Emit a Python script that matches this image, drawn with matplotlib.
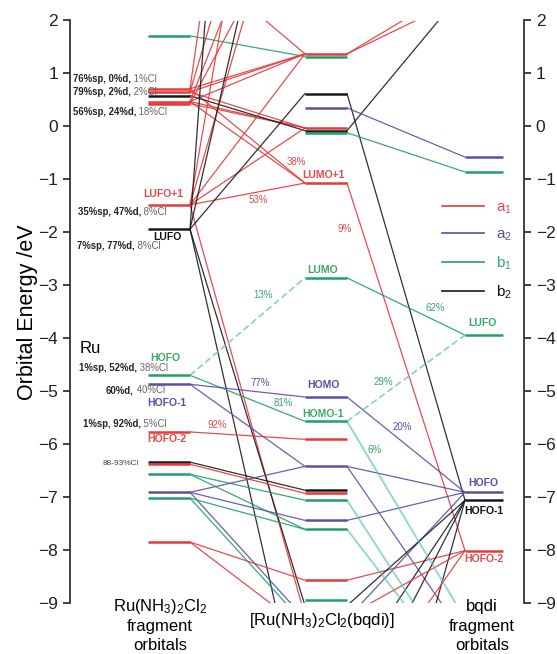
import matplotlib
matplotlib.use('Agg')
import matplotlib.pyplot as plt
from matplotlib.lines import Line2D

plt.rcParams['font.family'] = ['Liberation Sans', 'DejaVu Sans']
plt.rcParams['mathtext.default'] = 'regular'

# --- orbital energies (eV) and symmetry labels ---
# fragment Ru(NH3)2Cl2 levels
left_energy = [1.71, 0.71, 0.65, 0.58, 0.47, 0.43, -1.48, -1.94, -4.70, -4.87,
               -5.77, -6.34, -6.38, -6.57, -6.91, -7.02, -7.85, 3.2]
left_sym = ['b1', 'a1', 'a1', 'b2', 'a1', 'a1', 'a1', 'b2', 'b1', 'a2',
            'a1', 'b2', 'a1', 'b1', 'a2', 'b1', 'a1', 'a1']

# complex levels (some lie outside the plotted window)
center_energy = [1.37, 1.32, 0.62, 0.35, -0.03, -0.08, -0.12, -1.07, -2.86, -5.11,
                 -5.57, -5.91, -6.42, -6.87, -6.93, -7.06, -7.44, -7.61, -8.57, -8.95,
                 4.5, 6.0, 8.0, 11.0, 16.0, 7.5, 28.0, -9.05, -11.5, -9.25,
                 -9.3, -9.4, -9.6, -10.4, -11.4, -15.0, -9.5, -11.2]
center_sym = ['a1', 'b1', 'b2', 'a2', 'a1', 'b2', 'b1', 'a1', 'b1', 'a2',
              'b1', 'a1', 'a2', 'b2', 'a1', 'b1', 'a2', 'b1', 'a1', 'b1',
              'a1', 'a1', 'a1', 'a1', 'a1', 'b2', 'b2', 'b2', 'b2', 'a1',
              'a2', 'b1', 'b1', 'b2', 'b2', 'b2', 'a1', 'a1']

# bqdi fragment levels
right_energy = [-0.58, -0.86, -3.94, -6.91, -7.06, -8.01, 2.45, 2.7, 2.6, -9.3, -10.5, -9.65]
right_sym = ['a2', 'b1', 'b1', 'a2', 'b2', 'a1', 'a1', 'a1', 'b2', 'b1', 'b1', 'a2']

# correlation lines: (fragment level, complex level)
left_links = [(0, 1), (1, 7), (1, 0), (2, 0), (4, 0), (2, 4), (4, 4), (5, 4), (4, 7),
              (3, 5), (1, 24), (2, 22), (4, 21), (5, 20), (17, 0),
              (6, 23), (6, 21), (6, 0), (6, 4), (6, 7), (6, 29),
              (7, 2), (7, 26), (7, 25), (7, 27), (7, 28),
              (8, 10), (9, 9), (9, 12), (10, 11), (11, 13), (12, 14),
              (13, 15), (13, 17), (14, 12), (14, 16), (14, 30), (15, 17),
              (15, 31), (16, 18), (16, 36)]
left_links_minor = [(8, 8)]

right_links = [(0, 6), (0, 7), (5, 8), (2, 4), (3, 0), (6, 1), (7, 5), (8, 2),
               (9, 3), (12, 3), (12, 11), (16, 3), (18, 5), (30, 3),
               (27, 4), (33, 4), (34, 4), (35, 4), (29, 5), (37, 5)]
right_links_minor = [(10, 2)]
right_links_teal = [(10, 9), (15, 10), (17, 10)]

# percentage contributions written on the lines
pct_x = [296, 258, 345, 263, 260, 283, 217, 383, 402, 375, 435]
pct_e = [-0.67, -1.39, -1.94, -3.18, -4.85, -5.22, -5.64, -4.83, -5.68, -6.11, -3.43]
pct_text = ['38%', '53%', '9%', '13%', '77%', '81%', '92%', '29%', '20%', '6%', '62%']
pct_sym = ['a1', 'a1', 'a1', 'b1', 'a2', 'b1', 'a1', 'b1', 'a2', 'b1', 'b1']

# frontier orbital names
name_x = [163, 167, 165, 167, 167, 323, 323, 323, 323, 482, 483, 484, 484]
name_e = [-1.28, -2.09, -4.38, -5.23, -5.91, -0.92, -2.71, -4.88, -5.43, -3.71, -6.74, -7.27, -8.17]
name_text = ['LUFO+1', 'LUFO', 'HOFO', 'HOFO-1', 'HOFO-2', 'LUMO+1', 'LUMO', 'HOMO',
             'HOMO-1', 'LUFO', 'HOFO', 'HOFO-1', 'HOFO-2']
name_sym = ['a1', 'b2', 'b1', 'a2', 'a1', 'a1', 'b1', 'a2', 'b1', 'b1', 'a2', 'b2', 'a1']

# Ru(NH3)2Cl2 fragment compositions
comp_x = [73, 73, 73, 78, 77, 79, 106, 83]
comp_e = [0.90, 0.65, 0.27, -1.61, -2.26, -4.56, -4.98, -5.62]
comp_main = ['76%sp, 0%d,', '79%sp, 2%d,', '56%sp, 24%d,', '35%sp, 47%d,',
             '7%sp, 77%d,', '1%sp, 52%d,', '60%d,', '1%sp, 92%d,']
comp_cl = ['1%Cl', '2%Cl', '18%Cl', '8%Cl', '8%Cl', '38%Cl', '40%Cl', '5%Cl']

COLORS = {'a1': '#e33a3c', 'a2': '#5a4ea6', 'b1': '#22a06a', 'b2': '#1a1a1a'}
TEXT_COLORS = {'a1': '#e34a4a', 'a2': '#5a4ea6', 'b1': '#3aa86a', 'b2': '#111111'}
PALE_TEAL = '#86cfc6'
TEAL = '#4cc0aa'

# column extents along x (pixel-like units)
LX = (148, 190)
CX = (305, 347)
RX = (465, 503)

fig = plt.figure(figsize=(5.57, 6.54), dpi=100)
ax = fig.add_axes([70 / 557, 51 / 654, 454 / 557, 582.5 / 654])
ax.set_xlim(70, 524)
ax.set_ylim(-9, 2)


def link(x0, e0, x1, e1, **kw):
    ax.plot([x0, x1], [e0, e1], **kw)


for i, j in left_links:
    link(LX[1], left_energy[i], CX[0], center_energy[j],
         color=COLORS[left_sym[i]], lw=0.9, alpha=0.9)
for i, j in left_links_minor:
    link(LX[1], left_energy[i], CX[0], center_energy[j],
         color=PALE_TEAL, lw=1.2, ls=(0, (4, 2)))
for i, j in right_links:
    link(CX[1], center_energy[i], RX[0], right_energy[j],
         color=COLORS[right_sym[j]], lw=0.9, alpha=0.9)
for i, j in right_links_minor:
    link(CX[1], center_energy[i], RX[0], right_energy[j],
         color=PALE_TEAL, lw=1.2, ls=(0, (4, 2)))
for i, j in right_links_teal:
    link(CX[1], center_energy[i], RX[0], right_energy[j],
         color=TEAL, lw=1.4, alpha=0.6)

for energies, syms, (x0, x1) in [(left_energy, left_sym, LX),
                                 (center_energy, center_sym, CX),
                                 (right_energy, right_sym, RX)]:
    for e, s in zip(energies, syms):
        ax.plot([x0, x1], [e, e], color=COLORS[s], lw=1.8, solid_capstyle='butt')

for x, e, t, s in zip(pct_x, pct_e, pct_text, pct_sym):
    ax.text(x, e, t, color=TEXT_COLORS[s], fontsize=7, ha='center', va='center')

for x, e, t, s in zip(name_x, name_e, name_text, name_sym):
    ax.text(x, e, t, color=TEXT_COLORS[s], fontsize=7.5, fontweight='bold',
            ha='center', va='center')

for x, e, m, c in zip(comp_x, comp_e, comp_main, comp_cl):
    t = ax.text(x, e, m, color='#222222', fontsize=6.9, fontweight='bold',
                ha='left', va='center')
    ax.annotate(' ' + c, xy=(1, 0.5), xycoords=t, color='#666666', fontsize=6.9,
                ha='left', va='center')
ax.text(103, -6.36, '88-93%Cl', color='#444444', fontsize=6, ha='left', va='center')
ax.text(80, -4.19, 'Ru', fontsize=12, ha='left', va='center')

# symmetry key
handles = [Line2D([], [], color=COLORS[s], lw=1.2) for s in ['a1', 'a2', 'b1', 'b2']]
leg = ax.legend(handles, ['a$_1$', 'a$_2$', 'b$_1$', 'b$_2$'], loc='upper left',
                bbox_to_anchor=(0.79, 0.714), frameon=False, fontsize=11,
                handlelength=2.7, labelspacing=0.75, handletextpad=0.8,
                labelcolor=[TEXT_COLORS[s] for s in ['a1', 'a2', 'b1', 'b2']])

for side in ['top', 'bottom']:
    ax.spines[side].set_visible(False)
for side in ['left', 'right']:
    ax.spines[side].set_color('#333333')
    ax.spines[side].set_linewidth(1.3)
ax.set_xticks([])
ax.set_yticks(range(-9, 3))
ax.tick_params(axis='y', direction='out', length=5, width=1.2, labelsize=12.5,
               right=True, labelright=True, colors='#222222')
ax.set_ylabel('Orbital Energy /eV', fontsize=15.5, labelpad=0)

fig.text(160 / 557, 1 - 607 / 654, 'Ru(NH$_3$)$_2$Cl$_2$', fontsize=12, ha='center', va='center')
fig.text(160 / 557, 1 - 626 / 654, 'fragment', fontsize=12, ha='center', va='center')
fig.text(160 / 557, 1 - 645 / 654, 'orbitals', fontsize=12, ha='center', va='center')
fig.text(322 / 557, 1 - 620 / 654, '[Ru(NH$_3$)$_2$Cl$_2$(bqdi)]', fontsize=12,
         ha='center', va='center')
fig.text(482 / 557, 1 - 606 / 654, 'bqdi', fontsize=12, ha='center', va='center')
fig.text(482 / 557, 1 - 626 / 654, 'fragment', fontsize=12, ha='center', va='center')
fig.text(482 / 557, 1 - 645 / 654, 'orbitals', fontsize=12, ha='center', va='center')

fig.savefig('out.png', dpi=100)
